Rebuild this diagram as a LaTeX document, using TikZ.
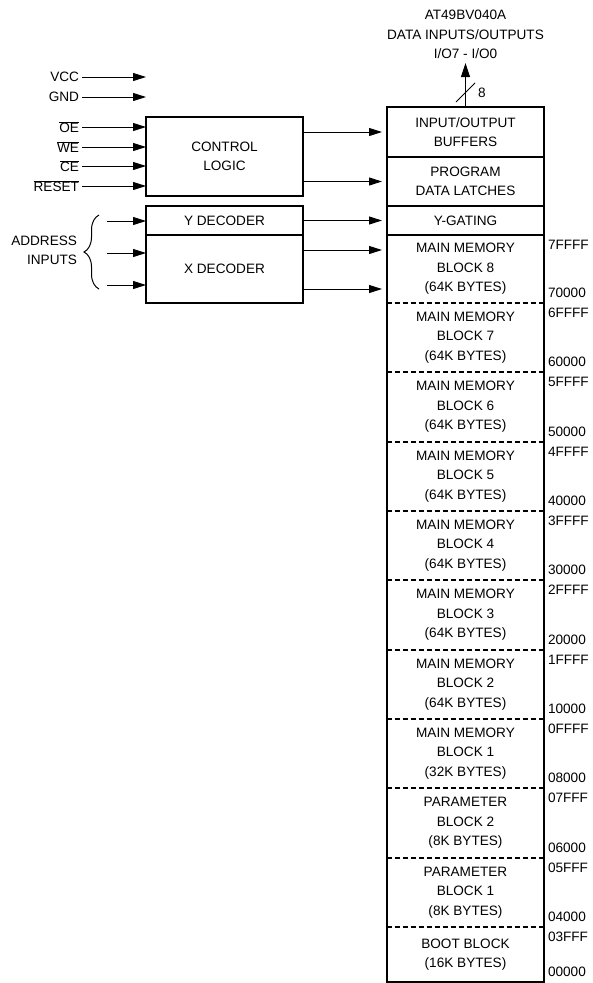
\documentclass[tikz,border=0pt]{standalone}
\usepackage{fontspec}
\setmainfont{Liberation Sans}
\usetikzlibrary{arrows.meta, positioning, decorations.pathreplacing}

\begin{document}
\begin{tikzpicture}[x=1pt, y=-1pt,
    every node/.style={font=\fontsize{13.6}{19.5}\selectfont, inner sep=0pt, outer sep=0pt},
    box/.style={draw, line width=1.2pt, minimum width=157pt, align=center},
    blk/.style={minimum width=157pt, align=center},
    sig/.style={line width=1pt, -{Triangle[length=13pt, width=8pt]}},
    sep/.style={line width=1.2pt, dash pattern=on 5pt off 3pt}]
    %\draw[help lines, step=50] (0, 0) grid (592, 983);
    \useasboundingbox (0, 0) rectangle (592, 983);

    % memory column
    \node[blk, minimum height=50pt] (io) at (465.5, 132) {INPUT/OUTPUT\\BUFFERS};
    \node[blk, minimum height=49pt, below=0pt of io] (pdl) {PROGRAM\\DATA LATCHES};
    \node[blk, minimum height=29pt, below=0pt of pdl] (yg) {Y-GATING};
    \node[blk, minimum height=68pt, below=0pt of yg] (b8) {MAIN MEMORY\\BLOCK 8\\(64K BYTES)};
    \node[blk, minimum height=69pt, below=0pt of b8] (b7) {MAIN MEMORY\\BLOCK 7\\(64K BYTES)};
    \node[blk, minimum height=70pt, below=0pt of b7] (b6) {MAIN MEMORY\\BLOCK 6\\(64K BYTES)};
    \node[blk, minimum height=69pt, below=0pt of b6] (b5) {MAIN MEMORY\\BLOCK 5\\(64K BYTES)};
    \node[blk, minimum height=69pt, below=0pt of b5] (b4) {MAIN MEMORY\\BLOCK 4\\(64K BYTES)};
    \node[blk, minimum height=70pt, below=0pt of b4] (b3) {MAIN MEMORY\\BLOCK 3\\(64K BYTES)};
    \node[blk, minimum height=69pt, below=0pt of b3] (b2) {MAIN MEMORY\\BLOCK 2\\(64K BYTES)};
    \node[blk, minimum height=69pt, below=0pt of b2] (b1) {MAIN MEMORY\\BLOCK 1\\(32K BYTES)};
    \node[blk, minimum height=70pt, below=0pt of b1] (p2) {PARAMETER\\BLOCK 2\\(8K BYTES)};
    \node[blk, minimum height=69pt, below=0pt of p2] (p1) {PARAMETER\\BLOCK 1\\(8K BYTES)};
    \node[blk, minimum height=55pt, below=0pt of p1] (boot) {BOOT BLOCK\\(16K BYTES)};

    \draw[line width=1.2pt] (io.south west) -- (io.south east);
    \draw[line width=1.2pt] (pdl.south west) -- (pdl.south east);
    \draw[line width=1.2pt] (yg.south west) -- (yg.south east);
    \draw[sep] (b8.south west) -- (b8.south east);
    \draw[sep] (b7.south west) -- (b7.south east);
    \draw[sep] (b6.south west) -- (b6.south east);
    \draw[sep] (b5.south west) -- (b5.south east);
    \draw[sep] (b4.south west) -- (b4.south east);
    \draw[sep] (b3.south west) -- (b3.south east);
    \draw[sep] (b2.south west) -- (b2.south east);
    \draw[sep] (b1.south west) -- (b1.south east);
    \draw[sep] (p2.south west) -- (p2.south east);
    \draw[sep] (p1.south west) -- (p1.south east);
    \draw[line width=1.2pt] (io.north west) rectangle (boot.south east);

    % addresses
    \path (b8.north east) ++(4, 10) node[anchor=west] (h8) {7FFFF};
    \path (b8.south east) ++(4, -10) node[anchor=west] (l8) {70000};
    \path (b7.north east) ++(4, 10) node[anchor=west] (h7) {6FFFF};
    \path (b7.south east) ++(4, -10) node[anchor=west] (l7) {60000};
    \path (b6.north east) ++(4, 10) node[anchor=west] (h6) {5FFFF};
    \path (b6.south east) ++(4, -10) node[anchor=west] (l6) {50000};
    \path (b5.north east) ++(4, 10) node[anchor=west] (h5) {4FFFF};
    \path (b5.south east) ++(4, -10) node[anchor=west] (l5) {40000};
    \path (b4.north east) ++(4, 10) node[anchor=west] (h4) {3FFFF};
    \path (b4.south east) ++(4, -10) node[anchor=west] (l4) {30000};
    \path (b3.north east) ++(4, 10) node[anchor=west] (h3) {2FFFF};
    \path (b3.south east) ++(4, -10) node[anchor=west] (l3) {20000};
    \path (b2.north east) ++(4, 10) node[anchor=west] (h2) {1FFFF};
    \path (b2.south east) ++(4, -10) node[anchor=west] (l2) {10000};
    \path (b1.north east) ++(4, 10) node[anchor=west] (h1) {0FFFF};
    \path (b1.south east) ++(4, -10) node[anchor=west] (l1) {08000};
    \path (p2.north east) ++(4, 10) node[anchor=west] (hp2) {07FFF};
    \path (p2.south east) ++(4, -10) node[anchor=west] (lp2) {06000};
    \path (p1.north east) ++(4, 10) node[anchor=west] (hp1) {05FFF};
    \path (p1.south east) ++(4, -10) node[anchor=west] (lp1) {04000};
    \path (boot.north east) ++(4, 10) node[anchor=west] (hbt) {03FFF};
    \path (boot.south east) ++(4, -10) node[anchor=west] (lbt) {00000};

    % data bus
    \node[align=center] (title) at (465.5, 34.5) {AT49BV040A\\DATA INPUTS/OUTPUTS\\I/O7 - I/O0};
    \coordinate (dout) at (465.5, 63);
    \draw[line width=1pt, -{Triangle[length=14pt, width=9pt]}] (io.north) -- (dout);
    \coordinate (s1) at (456, 102);
    \coordinate (s2) at (475, 83);
    \draw[line width=1pt] (s1) -- (s2);
    \node[anchor=west] (bw) at (478, 93) {8};

    % control and decoders
    \node[box, minimum height=79pt] (ctl) at (224.5, 156.5) {CONTROL\\LOGIC};
    \node[box, minimum height=29pt] (ydec) at (224.5, 220.5) {Y DECODER};
    \node[box, minimum height=68pt, below=0pt of ydec] (xdec) {X DECODER};

    \node[anchor=east] (vcc) at (79, 77) {VCC};
    \node[anchor=east] (gnd) at (79, 97) {GND};
    \node[anchor=east] (oe) at (79, 127) {$\overline{\mbox{OE}}$};
    \node[anchor=east] (we) at (79, 147) {$\overline{\mbox{WE}}$};
    \node[anchor=east] (ce) at (79, 166) {$\overline{\mbox{CE}}$};
    \node[anchor=east] (rst) at (79, 186) {$\overline{\mbox{RESET}}$};
    \draw[sig] ([xshift=3pt]vcc.east) -- (vcc.east -| ctl.west);
    \draw[sig] ([xshift=3pt]gnd.east) -- (gnd.east -| ctl.west);
    \draw[sig] ([xshift=3pt]oe.east) -- (oe.east -| ctl.west);
    \draw[sig] ([xshift=3pt]we.east) -- (we.east -| ctl.west);
    \draw[sig] ([xshift=3pt]ce.east) -- (ce.east -| ctl.west);
    \draw[sig] ([xshift=3pt]rst.east) -- (rst.east -| ctl.west);

    \node[align=right, anchor=east] (addr) at (77, 250.5) {ADDRESS\\INPUTS};
    \coordinate (abot) at (99, 289);
    \coordinate (atop) at (99, 215);
    \draw[decorate, decoration={brace, amplitude=15pt}, line width=1pt] (abot) -- (atop);
    \coordinate (a1) at (107, 221);
    \coordinate (a2) at (107, 253);
    \coordinate (a3) at (107, 285);
    \draw[sig] (a1) -- (a1 -| ydec.west);
    \draw[sig] (a2) -- (a2 -| xdec.west);
    \draw[sig] (a3) -- (a3 -| xdec.west);

    % into the array
    \coordinate (x1) at ([yshift=19pt]xdec.east);
    \coordinate (x2) at ([yshift=-20pt]xdec.east);
    \draw[sig, shorten >=5pt] (ctl.east |- io.west) -- (io.west);
    \draw[sig, shorten >=5pt] (ctl.east |- pdl.west) -- (pdl.west);
    \draw[sig, shorten >=5pt] (ydec.east) -- (ydec.east -| yg.west);
    \draw[sig, shorten >=5pt] (x1) -- (x1 -| b8.west);
    \draw[sig, shorten >=5pt] (x2) -- (x2 -| b8.west);
  \end{tikzpicture}
\end{document}
